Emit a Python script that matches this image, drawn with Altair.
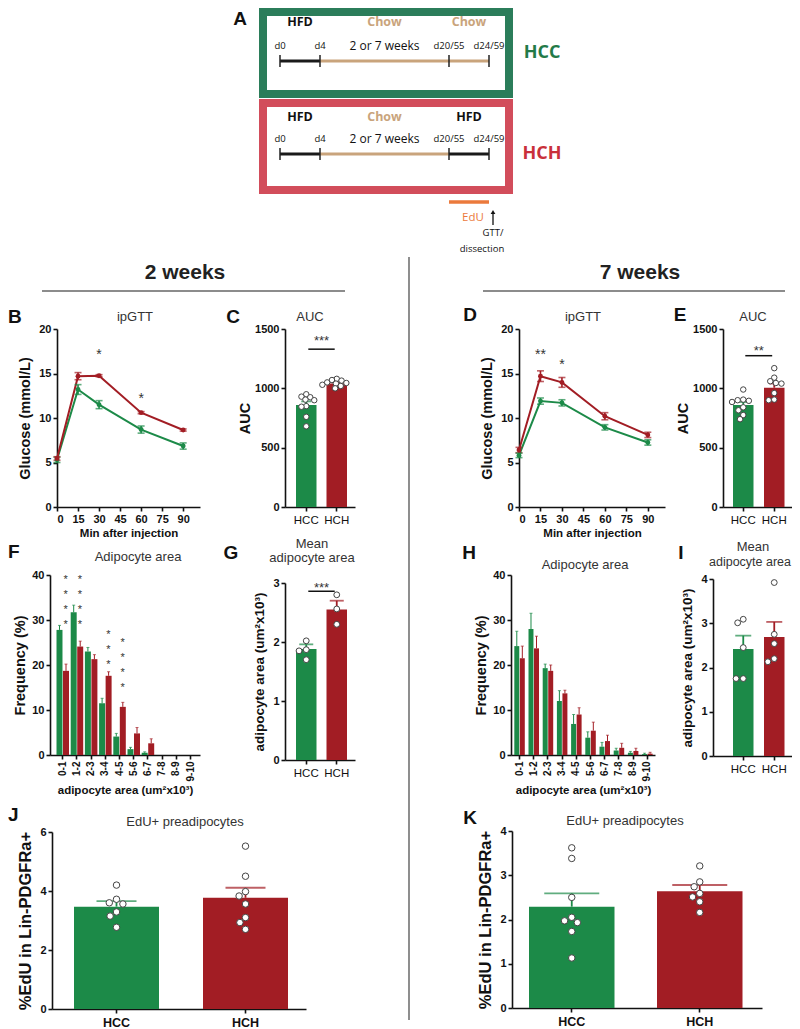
import altair as alt
import pandas as pd

# ---------------- data ----------------
groups = ["HCC", "HCH"]

# A: protocol timeline
tl_days = [0, 4, 20, 24]
tl_labels = ["d0", "d4", "d20/55", "d24/59"]
hcc_diets = ["HFD", "Chow", "Chow"]
hch_diets = ["HFD", "Chow", "HFD"]
edu_days = [20, 24]

# B / D: ipGTT
gtt_minutes = [0, 15, 30, 60, 90]
gtt_ticks = [0, 15, 30, 45, 60, 75, 90]
gtt2_hcc = [5.3, 13.2, 11.5, 8.7, 6.85]
gtt2_hcc_sem = [0.3, 0.55, 0.45, 0.4, 0.35]
gtt2_hch = [5.45, 14.7, 14.75, 10.6, 8.65]
gtt2_hch_sem = [0.2, 0.4, 0.12, 0.12, 0.12]
gtt2_star_min = [30, 60]
gtt2_star_y = [17.5, 12.6]
gtt2_star_txt = ["*", "*"]
gtt7_hcc = [5.8, 11.9, 11.7, 8.95, 7.25]
gtt7_hcc_sem = [0.25, 0.35, 0.35, 0.3, 0.3]
gtt7_hch = [6.4, 14.7, 14.0, 10.2, 8.1]
gtt7_hch_sem = [0.3, 0.6, 0.55, 0.4, 0.3]
gtt7_star_min = [15, 30]
gtt7_star_y = [17.5, 16.4]
gtt7_star_txt = ["**", "*"]

# C / E: AUC
auc2_mean = [860, 1040]
auc2_sem = [30, 12]
auc2_hcc_pts = [950, 930, 925, 905, 900, 850, 845, 760, 680]
auc2_hch_pts = [1080, 1070, 1065, 1050, 1045, 1040, 1030, 1020, 1000]
auc2_sig = [1330, 1435, "***"]
auc7_mean = [860, 1005]
auc7_sem = [25, 35]
auc7_hcc_pts = [990, 905, 900, 895, 885, 840, 815, 775, 740]
auc7_hch_pts = [1170, 1090, 1060, 1045, 1040, 960, 905, 900]
auc7_sig = [1275, 1345, "**"]

# F / H: adipocyte size distribution
size_bins = ["0-1", "1-2", "2-3", "3-4", "4-5", "5-6", "6-7", "7-8", "8-9", "9-10"]
dist2_hcc = [27.8, 31.7, 23.0, 11.5, 4.1, 1.3, 0.5, 0, 0, 0]
dist2_hcc_sem = [1.0, 1.6, 0.9, 1.1, 0.7, 0.4, 0.2, 0, 0, 0]
dist2_hch = [18.7, 24.1, 21.3, 17.6, 10.7, 4.8, 2.6, 0, 0, 0]
dist2_hch_sem = [1.5, 1.2, 1.0, 0.9, 1.0, 1.3, 1.0, 0, 0, 0]
dist2_star_bins = ["0-1", "1-2", "3-4", "4-5"]
dist2_star_n = [4, 4, 3, 4]
dist2_star_top = [39.6, 39.6, 27.4, 25.6]
dist7_hcc = [24.2, 28.0, 19.3, 12.0, 6.9, 3.85, 1.85, 1.0, 0.5, 0.2]
dist7_hcc_sem = [3.3, 3.5, 0.9, 2.3, 2.1, 1.3, 0.95, 0.5, 0.3, 0.2]
dist7_hch = [21.5, 23.7, 18.7, 13.7, 9.0, 5.4, 3.1, 1.6, 0.9, 0.3]
dist7_hch_sem = [2.7, 2.7, 1.3, 0.7, 1.5, 1.9, 1.3, 1.0, 0.6, 0.3]

# G / I: mean adipocyte area
mean2_mean = [1.88, 2.55]
mean2_sem = [0.08, 0.15]
mean2_hcc_pts = [2.02, 1.87, 1.85, 1.70]
mean2_hch_pts = [2.80, 2.56, 2.30]
mean2_sig = [2.86, 2.98, "***"]
mean7_mean = [2.42, 2.69]
mean7_sem = [0.30, 0.34]
mean7_hcc_pts = [3.01, 3.09, 2.45, 1.75, 1.75]
mean7_hch_pts = [3.92, 2.75, 2.54, 2.13, 2.20]

# J / K: EdU+ preadipocytes
edu2_mean = [3.47, 3.77]
edu2_sem = [0.19, 0.34]
edu2_hcc_pts = [4.2, 3.72, 3.56, 3.60, 3.29, 3.15, 2.77]
edu2_hch_pts = [5.52, 4.50, 3.98, 3.83, 3.56, 3.10, 2.93, 2.70]
edu7_mean = [2.29, 2.64]
edu7_sem = [0.30, 0.14]
edu7_hcc_pts = [3.62, 3.38, 2.50, 2.05, 1.93, 1.97, 1.73, 1.13]
edu7_hch_pts = [3.21, 2.85, 2.74, 2.59, 2.51, 2.40, 2.16]

# ---------------- styles ----------------
FONT = "Liberation Sans"
AFONT = "Open Sans"
GREEN = "#1c8a48"
RED = "#a21d24"
TAN = "#c9a47c"
ORANGE = "#eb7a3c"
BOX_G = "#2b7d5a"
BOX_R = "#d24d5b"
W_VIEW, H_VIEW = 784, 1001
COL = alt.Scale(domain=groups, range=[GREEN, RED])
col = alt.Color("g:N", scale=COL, legend=None)

AX = dict(grid=False, domainColor="#111", tickColor="#111", domainWidth=1.6,
          tickWidth=1.6, tickSize=4, labelFont=FONT, labelColor="#111",
          titleFont=FONT, titleColor="#111", titleFontWeight="bold",
          labelOverlap=False)


def yaxis(x, values, title, tsize=14.5, tpad=4, fmt=None, lsize=11):
    kw = dict(AX)
    kw.update(orient="left", offset=-x, values=values, title=title,
              titleFontSize=tsize, titlePadding=tpad, labelFontSize=lsize,
              labelFontWeight="bold", labelPadding=2)
    if fmt:
        kw["format"] = fmt
    return alt.Axis(**kw)


def xaxis(y, title=None, values=None, angle=0, lsize=11, lweight="bold",
          tsize=11.5, tpad=3, lpad=2):
    kw = dict(AX)
    kw.update(orient="bottom", offset=y - H_VIEW, title=title, labelAngle=angle,
              labelFontSize=lsize, labelFontWeight=lweight, titleFontSize=tsize,
              titlePadding=tpad, labelPadding=lpad)
    if values is not None:
        kw["values"] = values
    return alt.Axis(**kw)


def band(x0, x1, n, bar, step, left):
    W = x1 - x0
    pi = (step - bar) / step
    outer = W - step * (n - pi)
    po = max(outer, 0) / (2 * step)
    al = min(max(left / outer, 0.0), 1.0) if outer > 0 else 0.5
    return pi, po, al


def swarm(vals, ppu, diam):
    placed = []
    offs = [0.0] * len(vals)
    cands = [0.0]
    for j in range(1, 60):
        cands += [-j * 0.8, j * 0.8]
    for i in sorted(range(len(vals)), key=lambda k: -vals[k]):
        y = vals[i] * ppu
        for c in cands:
            if all((c - xo) ** 2 + (y - yo) ** 2 >= diam * diam for yo, xo in placed):
                break
        placed.append((y, c))
        offs[i] = c
    return offs


def txt(s, x, y, size=13, weight="normal", color="#333", align="center",
        baseline="middle", font=FONT, dx=0):
    return alt.Chart(pd.DataFrame({"t": [s]})).mark_text(
        font=font, fontSize=size, fontWeight=weight, color=color, align=align,
        baseline=baseline, dx=dx).encode(x=alt.value(x), y=alt.value(y), text="t:N")


def hline(x1, x2, y, color, width):
    return alt.Chart(pd.DataFrame({"a": [0]})).mark_rule(
        color=color, strokeWidth=width).encode(
        x=alt.value(x1), x2=alt.value(x2), y=alt.value(y))


def vline(x, y1, y2, color, width):
    return alt.Chart(pd.DataFrame({"a": [0]})).mark_rule(
        color=color, strokeWidth=width).encode(
        x=alt.value(x), y=alt.value(y1), y2=alt.value(y2))


# ---------------- panel A ----------------
DAYX = alt.Scale(domain=tl_days, range=[272, 312, 441, 481], nice=False, zero=False)


def box(x1, x2, y1, y2, color):
    return alt.Chart(pd.DataFrame({"a": [0]})).mark_rect(
        fill="white", stroke=color, strokeWidth=8).encode(
        x=alt.value(x1), x2=alt.value(x2), y=alt.value(y1), y2=alt.value(y2))


def timeline(diets, y_line, y_lab, y_diet):
    seg = pd.DataFrame({"s": tl_days[:-1], "e": tl_days[1:], "d": diets})
    seg["mid"] = (seg["s"] + seg["e"]) / 2
    out = []
    for diet, c, tc in (("Chow", TAN, TAN), ("HFD", "#1a1a1a", "#111")):
        sub = seg[seg.d == diet]
        out.append(alt.Chart(sub).mark_rule(color=c, strokeWidth=3).encode(
            x=alt.X("s:Q", scale=DAYX, axis=None), x2="e:Q", y=alt.value(y_line)))
        out.append(alt.Chart(sub).mark_text(
            font=AFONT, fontSize=12.5, fontWeight="bold", color=tc).encode(
            x=alt.X("mid:Q", scale=DAYX, axis=None), y=alt.value(y_diet), text="d:N"))
    ticks = pd.DataFrame({"d": tl_days, "lab": tl_labels})
    out.append(alt.Chart(ticks).mark_rule(color="#222", strokeWidth=1.5).encode(
        x=alt.X("d:Q", scale=DAYX, axis=None), y=alt.value(y_line - 6),
        y2=alt.value(y_line + 6)))
    out.append(alt.Chart(ticks).mark_text(font=AFONT, fontSize=9.5, color="#111").encode(
        x=alt.X("d:Q", scale=DAYX, axis=None), y=alt.value(y_lab), text="lab:N"))
    wk = pd.DataFrame({"d": [(tl_days[1] + tl_days[2]) / 2], "t": ["2 or 7 weeks"]})
    out.append(alt.Chart(wk).mark_text(font=AFONT, fontSize=12, color="#111").encode(
        x=alt.X("d:Q", scale=DAYX, axis=None), y=alt.value(y_lab), text="t:N"))
    return out


edu_df = pd.DataFrame({"s": [edu_days[0]], "e": [edu_days[1]]})
panelA = [
    box(255, 501, 4, 86, BOX_G),
    box(255, 501, 95, 182, BOX_R),
] + timeline(hcc_diets, 53, 38, 14) + timeline(hch_diets, 146, 131, 109) + [
    alt.Chart(edu_df).mark_rule(color=ORANGE, strokeWidth=3.5).encode(
        x=alt.X("s:Q", scale=DAYX, axis=None), x2="e:Q", y=alt.value(194)),
    txt("EdU", 465, 210, 11.5, color=ORANGE, font=AFONT),
    vline(485, 204, 217, "#111", 1.3),
    alt.Chart(pd.DataFrame({"a": [0]})).mark_point(
        shape="triangle-up", filled=True, size=22, color="#111", opacity=1).encode(
        x=alt.value(485), y=alt.value(204)),
    txt("GTT/", 485, 225, 9.5, color="#111", font=AFONT),
    txt("dissection", 474, 241, 9.5, color="#111", font=AFONT),
    txt("HCC", 534, 45, 18, "bold", "#237a48", font=AFONT),
    txt("HCH", 534, 146, 18, "bold", "#c9303b", font=AFONT),
    txt("A", 232, 11, 19, "bold", "#111"),
]

decor = [
    txt("2 weeks", 177, 265, 21, "bold", "#222"),
    txt("7 weeks", 632, 265, 21, "bold", "#222"),
    hline(34, 337, 283, "#666", 1.5),
    hline(475, 777, 283, "#666", 1.5),
    vline(401, 249, 1012, "#444", 1.2),
]


# ---------------- panel builders ----------------
def line_panel(hcc, hcc_sem, hch, hch_sem, star_min, star_y, star_txt, xr, yr, xmax):
    rows = []
    for g, m, s in (("HCC", hcc, hcc_sem), ("HCH", hch, hch_sem)):
        for t, mv, sv in zip(gtt_minutes, m, s):
            rows.append({"t": t, "g": g, "m": mv, "lo": mv - sv, "hi": mv + sv})
    df = pd.DataFrame(rows)
    xs = alt.Scale(domain=[0, xmax], range=xr, nice=False, zero=False)
    ys = alt.Scale(domain=[0, 20], range=yr, nice=False)
    xax = xaxis(yr[0], "Min after injection", gtt_ticks)
    yax = yaxis(xr[0], [0, 5, 10, 15, 20], "Glucose (mmol/L)", tpad=6)
    X = alt.X("t:Q", scale=xs, axis=xax)

    def Y(f):
        return alt.Y(f, scale=ys, axis=yax)

    base = alt.Chart(df)
    line = base.mark_line(strokeWidth=2).encode(x=X, y=Y("m:Q"), color=col)
    err = base.mark_rule(strokeWidth=1.6).encode(x=X, y=Y("lo:Q"), y2="hi:Q", color=col)
    caplo = base.mark_tick(orient="horizontal", size=7, thickness=1.6).encode(
        x=X, y=Y("lo:Q"), color=col)
    caphi = base.mark_tick(orient="horizontal", size=7, thickness=1.6).encode(
        x=X, y=Y("hi:Q"), color=col)
    pts = base.mark_circle(size=24, opacity=1).encode(x=X, y=Y("m:Q"), color=col)
    sdf = pd.DataFrame({"t": star_min, "y": star_y, "s": star_txt})
    stars = alt.Chart(sdf).mark_text(font=FONT, fontSize=14, color="#333",
                                     baseline="middle", dy=4).encode(
        x=X, y=Y("y:Q"), text="s:N")
    return [alt.layer(line, err, caplo, caphi, pts, stars)]


def bar_panel(means, sems, hcc_pts, hch_pts, xr, bar, step, left, yr, ymax, yvals,
              ytitle, ytsize=14.5, ytpad=4, fmt=None, xl=(11.5, "normal"),
              psize=34, diam=6.6, cap=10, sig=None):
    pi, po, al = band(xr[0], xr[1], 2, bar, step, left)

    def xsc():
        return alt.Scale(domain=groups, range=xr, paddingInner=pi, paddingOuter=po,
                         align=al)

    def ysc():
        return alt.Scale(domain=[0, ymax], range=yr, nice=False)

    xax = xaxis(yr[0], None, lsize=xl[0], lweight=xl[1], lpad=3)
    yax = yaxis(xr[0], yvals, ytitle, tsize=ytsize, tpad=ytpad, fmt=fmt)
    X = alt.X("g:N", scale=xsc(), axis=xax)

    def Y(f):
        return alt.Y(f, scale=ysc(), axis=yax)

    ppu = (yr[0] - yr[1]) / ymax
    df = pd.DataFrame({"g": groups, "m": means,
                       "hi": [m + s for m, s in zip(means, sems)]})
    bars = alt.Chart(df).mark_bar().encode(x=X, y=Y("m:Q"), color=col)
    err = alt.Chart(df).mark_rule(strokeWidth=1.8).encode(
        x=X, y=Y("m:Q"), y2="hi:Q", color=col)
    capm = alt.Chart(df).mark_tick(orient="horizontal", size=cap, thickness=1.8).encode(
        x=X, y=Y("hi:Q"), color=col)
    layers = [bars, err, capm]
    if sig is not None:
        sdf = pd.DataFrame({"g": ["HCC"], "b": ["HCH"], "y": [sig[0]], "ty": [sig[1]],
                            "s": [sig[2]]})
        layers.append(alt.Chart(sdf).mark_rule(color="#111", strokeWidth=1.5).encode(
            x=alt.X("g:N", scale=xsc(), axis=xax, bandPosition=0.6),
            x2=alt.X2("b:N", bandPosition=0.4),
            y=Y("y:Q")))
        layers.append(alt.Chart(sdf).mark_text(font=FONT, fontSize=13, color="#333",
                                               baseline="middle", dy=4,
                                               dx=step / 2).encode(
            x=X, y=Y("ty:Q"), text="s:N"))
    prow = []
    for g, vals in (("HCC", hcc_pts), ("HCH", hch_pts)):
        for v, o in zip(vals, swarm(vals, ppu, diam)):
            prow.append({"g": g, "v": v, "o": o})
    pdf = pd.DataFrame(prow)
    pts = alt.Chart(pdf).mark_circle(fill="white", stroke="#444", strokeWidth=1,
                                     size=psize, opacity=1).encode(
        x=alt.X("g:N", scale=xsc(), axis=None),
        xOffset=alt.XOffset("o:Q", scale=alt.Scale(domain=[-bar / 2, bar / 2],
                                                    range=[0, bar])),
        y=alt.Y("v:Q", scale=ysc(), axis=None))
    return [alt.layer(*layers), pts]


def dist_panel(hcc, hcc_sem, hch, hch_sem, xr, pair, step, left, yr, pi_off, stars=None):
    rows = []
    for g, m, s in (("HCC", hcc, hcc_sem), ("HCH", hch, hch_sem)):
        for b, mv, sv in zip(size_bins, m, s):
            rows.append({"b": b, "g": g, "v": mv, "hi": mv + sv, "s": sv})
    df = pd.DataFrame(rows)
    pi, po, al = band(xr[0], xr[1], len(size_bins), pair, step, left)
    xs = alt.Scale(domain=size_bins, range=xr, paddingInner=pi, paddingOuter=po, align=al)
    xo = alt.Scale(domain=groups, paddingInner=pi_off)
    ys = alt.Scale(domain=[0, 40], range=yr, nice=False)
    xax = xaxis(yr[0], "adipocyte area (um²x10³)", angle=-90, lsize=10, tsize=11.5,
                tpad=3)
    yax = yaxis(xr[0], [0, 10, 20, 30, 40], "Frequency (%)", tpad=4)
    X = alt.X("b:N", scale=xs, axis=xax)
    XO = alt.XOffset("g:N", scale=xo)

    def Y(f):
        return alt.Y(f, scale=ys, axis=yax)

    bars = alt.Chart(df).mark_bar().encode(x=X, xOffset=XO, y=Y("v:Q"), color=col)
    dfe = df[df.s > 0]
    err = alt.Chart(dfe).mark_rule(strokeWidth=1).encode(
        x=X, xOffset=XO, y=Y("v:Q"), y2="hi:Q", color=col)
    capm = alt.Chart(dfe).mark_tick(orient="horizontal", size=3, thickness=1).encode(
        x=X, xOffset=XO, y=Y("hi:Q"), color=col)
    layers = [bars, err, capm]
    if stars is not None:
        sb, sn, st = stars
        sdf = pd.DataFrame({"b": sb, "t": ["\n".join(["*"] * n) for n in sn], "y": st})
        layers.append(alt.Chart(sdf).mark_text(
            font=FONT, fontSize=11, color="#333", baseline="top", lineBreak="\n",
            lineHeight=15, dy=-2.5, dx=3).encode(x=X, y=Y("y:Q"), text="t:N"))
    return [alt.layer(*layers)]


ADIPO_T = "adipocyte area (um²x10³)"

panels = (
    line_panel(gtt2_hcc, gtt2_hcc_sem, gtt2_hch, gtt2_hch_sem, gtt2_star_min, gtt2_star_y,
               gtt2_star_txt, [49, 192], [499, 321], 102)
    + bar_panel(auc2_mean, auc2_sem, auc2_hcc_pts, auc2_hch_pts, [277, 347], 20.5, 30.5,
                11, [499, 321], 1500, [0, 500, 1000, 1500], "AUC", ytpad=2, fmt="d",
                sig=auc2_sig, cap=10, psize=30, diam=4.8)
    + line_panel(gtt7_hcc, gtt7_hcc_sem, gtt7_hch, gtt7_hch_sem, gtt7_star_min,
                 gtt7_star_y, gtt7_star_txt, [511, 657], [499, 321], 102)
    + bar_panel(auc7_mean, auc7_sem, auc7_hcc_pts, auc7_hch_pts, [715, 784], 20.5, 31, 10,
                [499, 321], 1500, [0, 500, 1000, 1500], "AUC", ytpad=2, fmt="d",
                sig=auc7_sig, cap=10, psize=30, diam=5.2)
    + dist_panel(dist2_hcc, dist2_hcc_sem, dist2_hch, dist2_hch_sem, [42, 192], 12.5,
                 14.2, 6.5, [747, 567], 0.08,
                 stars=(dist2_star_bins, dist2_star_n, dist2_star_top))
    + bar_panel(mean2_mean, mean2_sem, mean2_hcc_pts, mean2_hch_pts, [277, 347], 20.5,
                30.5, 11, [752, 575], 3, [0, 1, 2, 3], ADIPO_T, ytsize=13.5, ytpad=6,
                sig=mean2_sig, cap=14)
    + dist_panel(dist7_hcc, dist7_hcc_sem, dist7_hch, dist7_hch_sem, [503, 647], 10.5,
                 14.2, 3.3, [747, 567], 0.1)
    + bar_panel(mean7_mean, mean7_sem, mean7_hcc_pts, mean7_hch_pts, [705, 784], 20.5,
                31, 20, [748, 571], 4, [0, 1, 2, 3, 4], ADIPO_T, ytsize=13.5, ytpad=6,
                cap=16)
    + bar_panel(edu2_mean, edu2_sem, edu2_hcc_pts, edu2_hch_pts, [44, 298], 85, 129, 22,
                [1001, 824], 6, [0, 2, 4, 6], "%EdU in Lin-PDGFRa+", ytsize=16.5,
                ytpad=6, xl=(12.5, "bold"), psize=42, diam=7.4, cap=40)
    + bar_panel(edu7_mean, edu7_sem, edu7_hcc_pts, edu7_hch_pts, [504, 754], 85.5, 128,
                17, [1000, 823], 4, [0, 1, 2, 3, 4], "%EdU in Lin-PDGFRa+",
                ytsize=16.5, ytpad=6, xl=(12.5, "bold"), psize=42, diam=7.4, cap=55)
)

labels = [
    txt("B", 0, 309, 19, "bold", "#111", align="left"),
    txt("C", 225, 309, 19, "bold", "#111"),
    txt("D", 462, 307, 19, "bold", "#111"),
    txt("E", 672, 307, 19, "bold", "#111"),
    txt("F", 0, 544, 19, "bold", "#111", align="left"),
    txt("G", 223, 545, 19, "bold", "#111"),
    txt("H", 461, 545, 19, "bold", "#111"),
    txt("I", 673, 545, 19, "bold", "#111"),
    txt("J", 0, 807, 19, "bold", "#111", align="left"),
    txt("K", 462, 810, 19, "bold", "#111"),
    txt("ipGTT", 127, 309),
    txt("AUC", 302, 309),
    txt("ipGTT", 575, 309),
    txt("AUC", 745, 309),
    txt("Adipocyte area", 130, 549),
    txt("Mean", 304, 536),
    txt("adipocyte area", 304, 550),
    txt("Adipocyte area", 577, 557),
    txt("Mean", 745, 539),
    txt("adipocyte area", 742, 554, 12.5),
    txt("EdU+ preadipocytes", 177, 814),
    txt("EdU+ preadipocytes", 617, 813),
]

chart = alt.layer(*(panelA + decor + panels + labels)).resolve_scale(
    x="independent", y="independent", xOffset="independent"
).properties(width=W_VIEW, height=H_VIEW, padding=0).configure_view(stroke=None)

chart.save("out.html", embed_options={"renderer": "svg", "actions": False})
